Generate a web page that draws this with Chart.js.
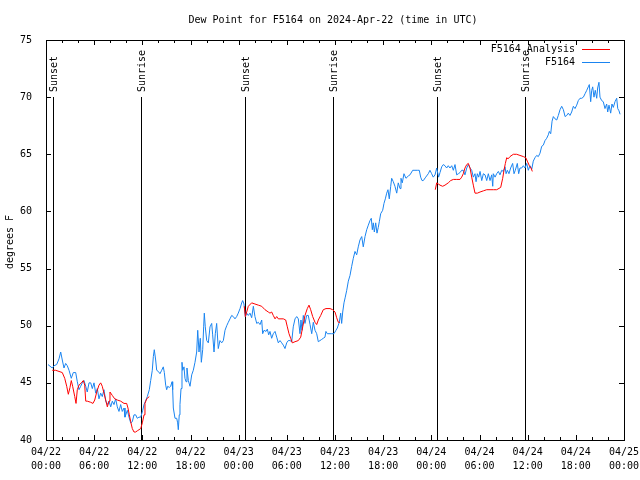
<!DOCTYPE html>
<html>
<head>
<meta charset="utf-8">
<title>Dew Point for F5164</title>
<script src="https://cdn.jsdelivr.net/npm/chart.js@4.4.1/dist/chart.umd.min.js"></script>
<style>
  html, body { margin: 0; padding: 0; background: #fff; }
  canvas { display: block; }
</style>
</head>
<body>
<canvas id="dewChart" width="640" height="480"></canvas>
<script>
// Tick labels (hours since 04/22 00:00 UTC)
const dayLabels = ['04/22', '04/23', '04/24', '04/25'];
const timeLabels = ['00:00', '06:00', '12:00', '18:00'];

// Sunrise / sunset markers (hour, label)
const eventHours = [0.9, 11.85, 24.8, 35.75, 48.75, 59.65];
const eventNames = ['Sunset', 'Sunrise', 'Sunset', 'Sunrise', 'Sunset', 'Sunrise'];

// F5164 observations: [hour, dew point F]
const f5164Obs = [
  [0.25,46.6],[0.78,46.3],[1.0,46.5],[1.33,46.6],[1.62,47.1],[1.83,47.7],[2.03,47.0],[2.24,46.3],[2.45,46.7],[2.65,46.5],
  [2.87,46.1],[3.15,45.4],[3.40,45.9],[3.70,45.9],[3.90,45.1],[4.11,44.4],[4.32,44.7],[4.52,45.0],[4.73,45.2],[4.95,44.7],
  [5.14,44.2],[5.36,45.0],[5.57,45.0],[5.77,44.5],[5.98,45.0],[6.19,44.1],[6.39,44.5],[6.60,43.6],[6.81,44.1],[7.01,43.8],
  [7.22,44.4],[7.44,43.4],[7.64,43.1],[7.85,43.4],[8.06,42.9],[8.26,43.4],[8.47,43.1],[8.68,43.6],[8.88,42.9],[9.09,42.5],
  [9.30,43.1],[9.50,42.5],[9.72,42.8],[9.84,42.0],[10.13,42.6],[10.34,42.0],[10.55,41.5],[10.75,41.6],[10.96,42.2],[11.17,42.2],
  [11.37,41.9],[11.58,42.0],[11.80,42.0],[12.05,42.6],[12.21,43.1],[12.46,43.5],[12.62,43.8],[12.87,44.4],[13.04,45.2],[13.24,46.1],
  [13.37,47.3],[13.49,47.9],[13.66,47.0],[13.79,46.1],[13.99,46.0],[14.20,45.8],[14.41,46.1],[14.61,46.4],[14.74,45.9],[14.91,44.8],
  [15.03,44.4],[15.16,44.7],[15.36,44.6],[15.53,44.7],[15.70,45.1],[15.78,44.4],[15.86,42.8],[16.07,41.9],[16.28,41.9],[16.40,41.5],
  [16.48,40.9],[16.60,42.2],[16.69,43.1],[16.82,44.5],[16.94,46.8],[17.03,46.1],[17.19,46.4],[17.31,45.4],[17.44,45.1],[17.56,46.3],
  [17.73,45.2],[17.94,44.7],[18.15,45.7],[18.35,46.1],[18.56,46.8],[18.77,47.7],[18.90,49.6],[19.06,47.7],[19.22,48.9],[19.35,46.8],
  [19.52,47.9],[19.64,49.9],[19.72,51.1],[19.84,49.9],[20.02,48.7],[20.22,48.5],[20.43,49.9],[20.64,50.2],[20.76,49.2],[20.93,47.7],
  [21.09,49.3],[21.26,50.2],[21.46,48.0],[21.67,48.7],[21.89,48.5],[22.09,48.7],[22.30,49.6],[22.51,50.0],[22.71,50.3],[22.92,50.6],
  [23.13,50.9],[23.33,50.8],[23.54,50.6],[23.75,50.8],[23.95,51.1],[24.17,51.5],[24.38,52.0],[24.50,52.2],[24.66,51.9],[24.83,50.8],
  [25.00,51.1],[25.20,50.9],[25.41,51.1],[25.62,50.7],[25.83,51.7],[26.03,50.8],[26.25,50.2],[26.45,50.3],[26.66,50.1],[26.87,50.5],
  [26.99,49.3],[27.16,49.6],[27.41,49.5],[27.57,49.7],[27.74,49.2],[27.90,49.5],[28.11,48.9],[28.31,49.3],[28.53,49.5],[28.74,49.0],
  [28.94,48.5],[29.15,48.7],[29.36,48.5],[29.56,48.3],[29.77,48.0],[29.98,48.5],[30.18,48.7],[30.39,48.7],[30.61,48.6],[30.80,49.9],
  [31.02,50.6],[31.23,50.8],[31.43,50.6],[31.64,49.3],[31.76,50.5],[31.89,49.6],[32.05,50.9],[32.26,50.2],[32.47,50.9],[32.67,50.9],
  [32.89,50.1],[33.10,49.3],[33.30,50.3],[33.51,49.6],[33.72,49.3],[33.92,48.6],[34.13,48.7],[34.34,48.8],[34.54,48.9],[34.75,49.0],
  [34.87,49.5],[35.04,49.3],[35.38,49.3],[35.59,49.3],[35.87,49.3],[36.12,49.6],[36.29,49.8],[36.53,50.3],[36.71,51.1],[36.83,50.2],
  [36.96,51.2],[37.12,52.0],[37.28,52.5],[37.46,53.1],[37.66,53.9],[37.87,54.4],[38.08,55.2],[38.28,55.9],[38.49,56.5],[38.70,56.2],
  [38.90,56.9],[39.11,57.5],[39.33,57.8],[39.52,56.9],[39.74,57.8],[39.95,58.4],[40.15,58.8],[40.36,59.2],[40.52,59.4],[40.65,58.4],
  [40.77,59.0],[40.90,58.2],[41.07,59.0],[41.23,58.1],[41.39,58.6],[41.52,59.1],[41.69,59.8],[41.94,60.1],[42.10,60.7],[42.27,61.1],
  [42.44,61.6],[42.60,61.9],[42.76,61.1],[42.94,62.2],[43.06,62.9],[43.26,62.6],[43.47,62.2],[43.69,61.6],[43.88,62.5],[44.10,62.0],
  [44.22,62.9],[44.38,62.5],[44.59,63.3],[44.84,62.9],[45.13,63.1],[45.34,63.2],[45.68,63.6],[45.96,63.6],[46.25,63.6],[46.50,63.6],
  [46.67,63.0],[46.84,62.7],[47.00,62.7],[47.30,63.0],[47.62,63.3],[47.83,63.6],[48.04,63.3],[48.24,63.0],[48.46,63.2],[48.67,63.8],
  [48.91,63.0],[49.08,63.4],[49.29,63.9],[49.49,64.1],[49.70,64.0],[49.91,63.8],[50.11,64.0],[50.32,63.8],[50.54,64.0],[50.74,63.6],
  [50.95,64.1],[51.16,63.2],[51.37,63.3],[51.57,63.4],[51.78,63.6],[51.98,63.6],[52.19,63.2],[52.41,63.8],[52.61,64.1],[52.82,63.8],
  [53.03,63.6],[53.23,63.0],[53.44,63.3],[53.57,62.6],[53.73,63.3],[53.90,63.0],[54.07,63.5],[54.28,62.7],[54.48,63.3],[54.69,63.2],
  [54.90,62.7],[55.10,63.3],[55.31,62.7],[55.52,63.2],[55.65,62.2],[55.72,63.3],[55.94,63.0],[56.14,63.3],[56.35,63.5],[56.55,63.2],
  [56.77,63.6],[56.97,63.5],[57.18,63.9],[57.31,63.3],[57.47,63.6],[57.67,63.3],[57.88,63.8],[58.13,64.2],[58.30,63.3],[58.46,63.6],
  [58.71,64.2],[58.88,63.3],[59.04,63.8],[59.26,63.8],[59.46,64.0],[59.67,63.8],[59.88,64.2],[60.08,63.6],[60.29,64.0],[60.51,63.7],
  [60.70,64.4],[60.91,64.7],[61.12,64.9],[61.33,64.8],[61.54,65.1],[61.75,65.7],[61.95,65.8],[62.16,66.2],[62.37,66.4],[62.57,66.7],
  [62.70,67.0],[62.87,66.8],[63.04,67.9],[63.20,68.3],[63.41,68.1],[63.62,68.0],[63.82,68.4],[64.03,68.9],[64.24,69.2],[64.45,68.9],
  [64.66,68.3],[64.87,68.4],[65.06,68.6],[65.27,68.4],[65.48,68.7],[65.69,69.2],[65.90,69.0],[66.11,69.3],[66.31,69.7],[66.52,69.9],
  [66.73,69.9],[66.94,70.0],[67.15,70.3],[67.36,70.6],[67.55,70.9],[67.68,71.1],[67.85,69.6],[67.98,70.6],[68.10,70.9],[68.26,70.0],
  [68.42,70.6],[68.60,69.9],[68.72,70.8],[68.88,71.3],[69.01,70.0],[69.22,69.7],[69.42,69.6],[69.63,69.0],[69.84,69.4],[69.97,68.7],
  [70.13,69.3],[70.34,68.6],[70.50,69.4],[70.67,69.1],[70.88,69.6],[71.09,69.9],[71.22,69.0],[71.38,68.8],[71.51,68.5]
];

// F5164 Analysis: [hour, dew point F], null = gap
const f5164Analysis = [
  [0.78,46.1],[1.2,46.1],[1.62,46.0],[2.03,45.9],[2.33,45.4],[2.58,44.7],[2.78,44.0],[2.99,44.6],[3.15,45.2],[3.32,44.7],
  [3.58,43.8],[3.74,43.2],[3.90,44.4],[4.11,44.8],[4.40,45.0],[4.65,45.2],[4.82,44.8],[4.95,43.4],[5.14,43.4],[5.57,43.3],
  [5.85,43.2],[6.07,43.5],[6.32,44.2],[6.60,44.8],[6.81,45.0],[7.01,44.7],[7.22,44.1],[7.44,43.5],[7.64,42.9],[7.85,43.4],
  [7.97,44.2],[8.26,43.9],[8.56,43.6],[8.88,43.5],[9.30,43.4],[9.72,43.2],[10.05,43.2],[10.21,42.8],[10.38,42.2],[10.55,41.6],
  [10.75,41.0],[10.96,40.7],[11.17,40.7],[11.37,40.8],[11.80,41.0],[12.00,41.5],[12.21,42.2],[12.33,43.2],[12.54,43.6],[12.87,43.8],
  [18.0,null],
  [24.70,51.7],[24.83,50.8],[25.00,51.2],[25.20,51.7],[25.62,52.0],[26.03,51.9],[26.45,51.8],[26.87,51.7],[27.28,51.4],[27.69,51.2],
  [27.90,51.1],[28.11,51.2],[28.31,50.9],[28.53,50.6],[28.74,50.8],[28.94,50.6],[29.15,50.6],[29.56,50.6],[29.86,50.5],[30.06,49.9],
  [30.27,49.3],[30.48,48.9],[30.68,48.5],[31.02,48.6],[31.43,48.7],[31.73,49.0],[31.98,49.9],[32.26,50.9],[32.55,51.5],[32.76,51.8],
  [32.97,51.4],[33.22,50.8],[33.51,50.3],[33.72,50.1],[33.92,50.5],[34.22,50.9],[34.54,51.4],[34.88,51.5],[35.38,51.5],[35.71,51.4],
  [36.00,51.2],[36.21,50.7],[36.41,50.3],[36.62,50.3],
  [42.0,null],
  [48.49,61.9],[48.67,62.5],[48.87,62.4],[49.08,62.3],[49.41,62.2],[49.70,62.3],[50.11,62.5],[50.41,62.7],[50.74,62.8],[51.16,62.8],
  [51.57,62.8],[51.78,63.0],[51.98,63.3],[52.19,63.8],[52.41,64.1],[52.61,64.2],[52.82,63.8],[53.03,63.0],[53.23,62.3],[53.44,61.6],
  [53.73,61.6],[54.07,61.7],[54.48,61.8],[54.90,61.9],[55.31,61.9],[55.72,61.9],[56.14,61.9],[56.64,62.1],[56.89,62.9],[57.05,63.6],
  [57.22,64.2],[57.39,64.7],[57.56,64.6],[57.80,64.8],[58.21,65.0],[58.63,65.0],[59.04,64.9],[59.46,64.8],[59.76,64.7],[59.96,64.4],
  [60.21,64.0],[60.42,63.8],[60.58,63.5]
];

const FONT = '10px "DejaVu Sans Mono", "Liberation Mono", monospace';
const RED = '#ff0000';
const BLUE = '#1a84f0';

// gnuplot-like frame, inward ticks, sun markers, title and key
const gnuplotDecor = {
    id: 'gnuplotDecor',
    beforeDatasetsDraw(chart) {
        const ctx = chart.ctx;
        const xs = chart.scales.x, ys = chart.scales.y;
        const top = ys.getPixelForValue(70);
        const bottom = chart.chartArea.bottom;
        ctx.save();
        ctx.strokeStyle = '#000';
        ctx.lineWidth = 1;
        ctx.fillStyle = '#000';
        ctx.font = FONT;
        eventHours.forEach((h, i) => {
            const x = Math.round(xs.getPixelForValue(h)) + 0.5;
            ctx.beginPath();
            ctx.moveTo(x, Math.round(top));
            ctx.lineTo(x, bottom);
            ctx.stroke();
            ctx.save();
            ctx.translate(x + 0.5, Math.round(top) - 5);
            ctx.rotate(-Math.PI / 2);
            ctx.textAlign = 'left';
            ctx.textBaseline = 'middle';
            ctx.fillText(eventNames[i], 0, 0);
            ctx.restore();
        });
        ctx.restore();
    },
    afterDraw(chart) {
        const ctx = chart.ctx;
        const area = chart.chartArea;
        const xs = chart.scales.x, ys = chart.scales.y;
        ctx.save();
        ctx.strokeStyle = '#000';
        ctx.lineWidth = 1;
        ctx.strokeRect(area.left + 0.5, area.top + 0.5, area.right - area.left, area.bottom - area.top);

        ctx.beginPath();
        for (let h = 0; h <= 72; h += 2) {
            const x = Math.round(xs.getPixelForValue(h)) + 0.5;
            const len = h % 6 === 0 ? 5 : 3;
            ctx.moveTo(x, area.bottom);
            ctx.lineTo(x, area.bottom - len);
            ctx.moveTo(x, area.top);
            ctx.lineTo(x, area.top + len);
        }
        for (let v = 40; v <= 75; v += 5) {
            const y = Math.round(ys.getPixelForValue(v)) + 0.5;
            ctx.moveTo(area.left, y);
            ctx.lineTo(area.left + 5, y);
            ctx.moveTo(area.right, y);
            ctx.lineTo(area.right - 5, y);
        }
        ctx.stroke();

        ctx.fillStyle = '#000';
        ctx.font = FONT;
        ctx.textAlign = 'center';
        ctx.textBaseline = 'middle';
        ctx.fillText('Dew Point for F5164 on 2024-Apr-22 (time in UTC)', 333, 20);

        ctx.save();
        ctx.translate(10, 242);
        ctx.rotate(-Math.PI / 2);
        ctx.fillText('degrees F', 0, 0);
        ctx.restore();

        // key
        const keyItems = [['F5164 Analysis', RED], ['F5164', BLUE]];
        keyItems.forEach((item, i) => {
            const y = 49 + i * 13;
            ctx.textAlign = 'right';
            ctx.fillStyle = '#000';
            ctx.fillText(item[0], 575, y);
            ctx.strokeStyle = item[1];
            ctx.beginPath();
            ctx.moveTo(582, y + 0.5);
            ctx.lineTo(610, y + 0.5);
            ctx.stroke();
        });
        ctx.restore();
    }
};

const ctx = document.getElementById('dewChart').getContext('2d');
new Chart(ctx, {
    type: 'line',
    data: {
        datasets: [
            {
                label: 'F5164 Analysis',
                data: f5164Analysis.map(p => ({ x: p[0], y: p[1] })),
                borderColor: RED,
                borderWidth: 1,
                pointRadius: 0,
                tension: 0,
                spanGaps: false
            },
            {
                label: 'F5164',
                data: f5164Obs.map(p => ({ x: p[0], y: p[1] })),
                borderColor: BLUE,
                borderWidth: 1,
                pointRadius: 0,
                tension: 0
            }
        ]
    },
    options: {
        responsive: false,
        animation: false,
        devicePixelRatio: 1,
        layout: { padding: { left: 0, top: 40, right: 16, bottom: 0 } },
        plugins: { legend: { display: false }, title: { display: false }, tooltip: { enabled: false } },
        scales: {
            x: {
                type: 'linear',
                min: 0,
                max: 72,
                grid: { display: false },
                border: { display: false },
                afterFit: function(scale) {
                    scale.height = 40;
                    scale.paddingLeft = 0;
                    scale.paddingRight = 0;
                },
                ticks: {
                    stepSize: 6,
                    autoSkip: false,
                    maxRotation: 0,
                    padding: -3,
                    color: '#000',
                    font: { family: '"DejaVu Sans Mono", monospace', size: 10, lineHeight: 1.4 },
                    callback: function(value) {
                        if (value % 6 !== 0) return '';
                        return [dayLabels[Math.floor(value / 24)], timeLabels[(value % 24) / 6]];
                    }
                }
            },
            y: {
                min: 40,
                max: 75,
                grid: { display: false },
                border: { display: false },
                afterFit: function(scale) {
                    scale.width = 46;
                    scale.paddingTop = 0;
                    scale.paddingBottom = 0;
                },
                ticks: {
                    stepSize: 5,
                    padding: 6,
                    color: '#000',
                    font: { family: '"DejaVu Sans Mono", monospace', size: 10 }
                }
            }
        }
    },
    plugins: [gnuplotDecor]
});
</script>
</body>
</html>
